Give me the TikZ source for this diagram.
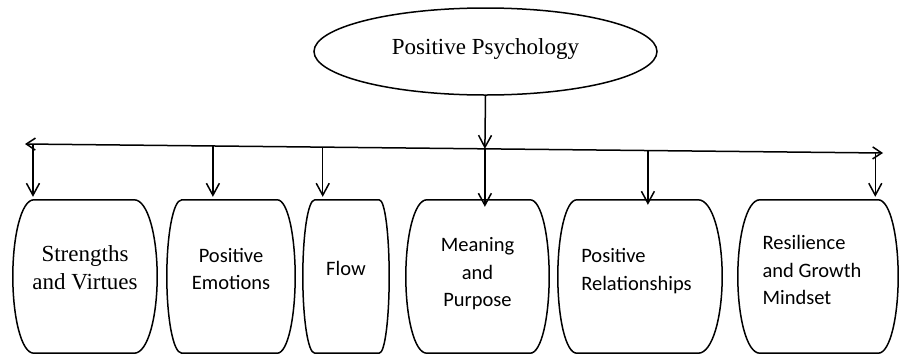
\documentclass[tikz,border=0pt]{standalone}
\usepackage{fontspec}
\setmainfont{Liberation Serif}
\newfontfamily\carl{Carlito}
\usetikzlibrary{arrows.meta,shapes.geometric,calc}

% barrel-shaped outline around an (invisible) box node:
% #1 node name, #2 left corner inset, #3 right corner inset (in bp)
\newcommand\barrelbox[3]{%
  \draw[outline] ([xshift=#2bp]#1.north west) -- ([xshift=-#3bp]#1.north east)
    .. controls ([xshift={-0.4*#3bp}]#1.north east) and ([yshift=40bp]#1.east) .. (#1.east)
    .. controls ([yshift=-40bp]#1.east) and ([xshift={-0.4*#3bp}]#1.south east) .. ([xshift=-#3bp]#1.south east)
    -- ([xshift=#2bp]#1.south west)
    .. controls ([xshift={0.4*#2bp}]#1.south west) and ([yshift=-40bp]#1.west) .. (#1.west)
    .. controls ([yshift=40bp]#1.west) and ([xshift={0.4*#2bp}]#1.north west) .. cycle;}

\begin{document}
\begin{tikzpicture}[x=1bp,y=-1bp,
  outline/.style={line width=1.5bp, line join=round},
  tipv/.tip={Straight Barb[length=12bp,width=13bp,line width=1.5bp]},
  tiph/.tip={Straight Barb[length=9bp,width=12bp,line width=1.5bp]},
  arr/.style={line width=1.5bp, -tipv},
  arrboth/.style={line width=1.5bp, tiph-tiph},
  boxframe/.style={inner sep=0pt, minimum height=153bp},
  serifl/.style={font=\fontsize{23bp}{28bp}\selectfont, align=center, inner sep=0pt},
  sansl/.style={font=\carl\fontsize{20.5bp}{27.5bp}\selectfont, inner sep=0pt}]

\useasboundingbox (0,0) rectangle (901,355);

% root
\node[draw, ellipse, line width=1.5bp, minimum width=343bp, minimum height=87bp,
      inner sep=0pt, font=\fontsize{23bp}{28bp}\selectfont, text height=16bp, text depth=11bp]
      (root) at (485.5,51.5) {Positive Psychology};

% distribution bar
\coordinate (L) at (25,144);
\coordinate (R) at (883,153);
\draw[arrboth] (L) -- (R);

\coordinate (p1) at ($(L)!0.0093!(R)$);
\coordinate (p2) at ($(L)!0.219!(R)$);
\coordinate (p3) at ($(L)!0.347!(R)$);
\coordinate (p4) at ($(L)!0.536!(R)$);
\coordinate (p5) at ($(L)!0.726!(R)$);
\coordinate (p6) at ($(L)!0.991!(R)$);

\draw[arr] (root.south) -- (p4);

% boxes
\node[boxframe, minimum width=144bp] (b1) at (85,276.5) {};
\node[boxframe, minimum width=128bp] (b2) at (231,276.5) {};
\node[boxframe, minimum width=86bp]  (b3) at (346,276.5) {};
\node[boxframe, minimum width=143bp] (b4) at (477.5,276.5) {};
\node[boxframe, minimum width=164bp] (b5) at (640,276.5) {};
\node[boxframe, minimum width=160bp] (b6) at (818,276.5) {};

\barrelbox{b1}{21}{23}
\barrelbox{b2}{15}{18}
\barrelbox{b3}{12}{10}
\barrelbox{b4}{21}{19}
\barrelbox{b5}{19}{24}
\barrelbox{b6}{22}{20}

% labels
\node[serifl] (t1) at (85,268) {Strengths\\and Virtues};
\node[sansl, align=center] (t2) at (231,269) {Positive\\Emotions};
\node[sansl, align=center] (t3) at (346,268.5) {Flow};
\node[sansl, align=center] (t4) at (477.5,274) {Meaning\\and\\Purpose};
\node[sansl, align=left] (t5) at (636.5,271) {Positive\\Relationships};
\node[sansl, align=left] (t6) at (812,270) {Resilience\\and Growth\\Mindset};

% branches
\draw[arr] (p1) -- ($(p1 |- b1.north)+(0,-3)$);
\draw[arr] (p2) -- ($(p2 |- b2.north)+(0,-3)$);
\draw[arr] (p3) -- ($(p3 |- b3.north)+(0,-3)$);
\draw[arr] (p4) -- ($(p4 |- b4.north)+(0,7)$);
\draw[arr] (p5) -- ($(p5 |- b5.north)+(0,5)$);
\draw[arr] (p6) -- ($(p6 |- b6.north)+(0,-3)$);
\end{tikzpicture}
\end{document}
